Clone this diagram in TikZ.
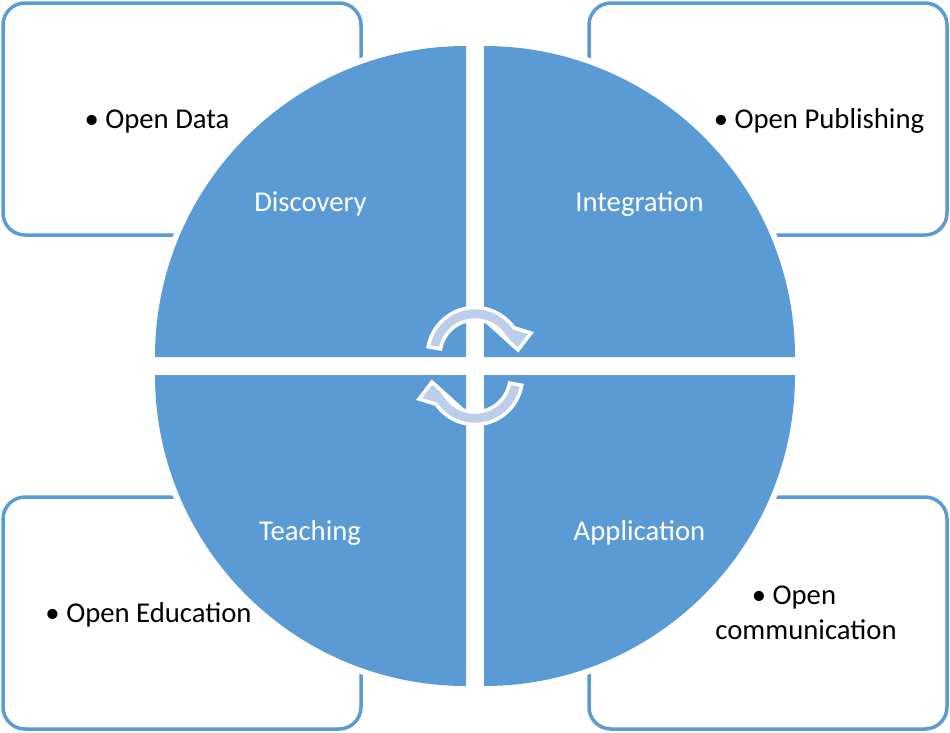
\documentclass[tikz,border=0pt]{standalone}
\usepackage{fontspec}
\setmainfont{Carlito}
\usetikzlibrary{positioning}
\definecolor{quadblue}{RGB}{91,155,213}
\definecolor{arrowblue}{RGB}{188,206,234}
\tikzset
{
    infobox/.style    = {rectangle, rounded corners=22pt, draw=quadblue, line width=3.5pt, fill=white, minimum width=358pt, minimum height=232pt},
    bullettext/.style = {anchor=base, text=black, font=\fontsize{28.7}{35}\selectfont, inner sep=0pt},
    quadlabel/.style  = {anchor=base, text=white, font=\fontsize{28.7}{35}\selectfont, inner sep=0pt},
    quadrant/.style   = {fill=quadblue},
    quadhalo/.style   = {fill=white},
    cyclearrow/.style = {fill=arrowblue, draw=white, line width=3.5pt, line join=miter}
}

\begin{document}
\begin{tikzpicture}[x=1pt, y=-1pt]
	 \newcommand\QRAD{311}
	 \newcommand\HALO{317}

	 \useasboundingbox (0,0) rectangle (950,732);

	 % boxes behind the circle
	 \node (bd) [infobox] at (182,119) {};
	 \node (bi) [infobox] at (768,119) {};
	 \node (bt) [infobox] at (182,613) {};
	 \node (ba) [infobox] at (768,613) {};

	 \node (od) [bullettext] at (157,128)   {\textbullet\ Open Data};
	 \node (op) [bullettext] at (819,128)   {\textbullet\ Open Publishing};
	 \node (oe) [bullettext] at (148.5,622) {\textbullet\ Open Education};
	 \node (oc) [bullettext, anchor=center, align=center] at (806,613) {\textbullet\ Open\hspace*{24pt}\\communication};

	 % four quarter discs
	 \foreach \cx/\cy/\a in {466/357/180, 484/357/270, 484/375/0, 466/375/90}
	 {
	    \fill[quadhalo] (\cx,\cy) -- ++(\a:\HALO) arc[start angle=\a, end angle=\a+90, radius=\HALO] -- cycle;
	    \fill[quadrant] (\cx,\cy) -- ++(\a:\QRAD) arc[start angle=\a, end angle=\a+90, radius=\QRAD] -- cycle;
	 }

	 \node (qd) [quadlabel] at (310.5,211) {Discovery};
	 \node (qi) [quadlabel] at (639.5,211) {Integration};
	 \node (qt) [quadlabel] at (310,540)   {Teaching};
	 \node (qa) [quadlabel] at (639.5,540) {Application};

	 % cycle arrows in the middle
	 \path[cyclearrow] (428.22,346.75) arc[start angle=190, end angle=325, radius=47.5]
	    -- (531,333) -- (518,350) -- (497,331)
	    -- (503.67,334.92) arc[start angle=325, end angle=190, radius=35] -- cycle;
	 \path[cyclearrow] (521.78,385.25) arc[start angle=10, end angle=145, radius=47.5]
	    -- (419,399) -- (432,382) -- (453,401)
	    -- (446.33,397.08) arc[start angle=145, end angle=10, radius=35] -- cycle;
\end{tikzpicture}
\end{document}
